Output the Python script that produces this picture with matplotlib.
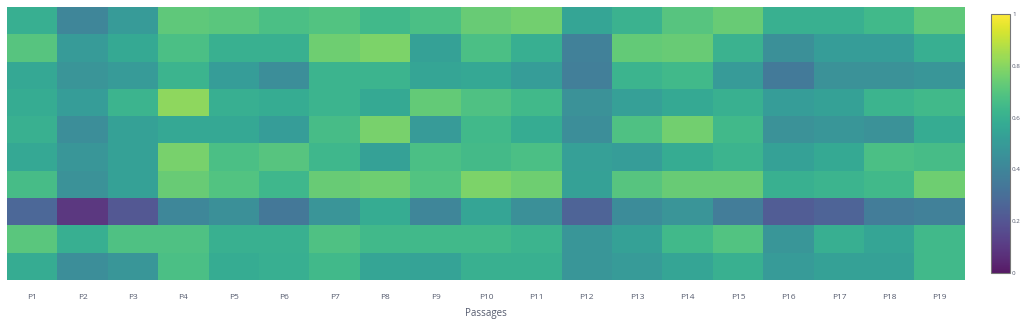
import matplotlib
matplotlib.use("Agg")
import matplotlib.pyplot as plt
import numpy as np
from matplotlib.colors import Normalize

passages = [f"P{i}" for i in range(1, 20)]

row0 = [0.59, 0.40, 0.50, 0.72, 0.71, 0.67, 0.69, 0.64, 0.67, 0.74, 0.76, 0.55, 0.61, 0.70, 0.74, 0.60, 0.60, 0.64, 0.72]
row1 = [0.70, 0.50, 0.57, 0.67, 0.60, 0.60, 0.75, 0.78, 0.53, 0.67, 0.59, 0.38, 0.73, 0.74, 0.61, 0.45, 0.51, 0.51, 0.59]
row2 = [0.56, 0.47, 0.50, 0.62, 0.51, 0.44, 0.62, 0.62, 0.55, 0.56, 0.51, 0.37, 0.62, 0.64, 0.50, 0.35, 0.46, 0.46, 0.48]
row3 = [0.58, 0.51, 0.62, 0.81, 0.59, 0.58, 0.62, 0.57, 0.73, 0.68, 0.64, 0.46, 0.52, 0.57, 0.60, 0.51, 0.53, 0.62, 0.64]
row4 = [0.60, 0.44, 0.53, 0.56, 0.56, 0.51, 0.66, 0.77, 0.50, 0.64, 0.58, 0.44, 0.68, 0.76, 0.64, 0.46, 0.48, 0.46, 0.58]
row5 = [0.56, 0.48, 0.53, 0.77, 0.67, 0.70, 0.63, 0.53, 0.67, 0.65, 0.67, 0.52, 0.51, 0.58, 0.62, 0.53, 0.57, 0.67, 0.66]
row6 = [0.66, 0.46, 0.53, 0.74, 0.69, 0.63, 0.74, 0.75, 0.69, 0.78, 0.75, 0.53, 0.70, 0.74, 0.74, 0.60, 0.62, 0.64, 0.75]
row7 = [0.27, 0.09, 0.21, 0.41, 0.45, 0.34, 0.47, 0.58, 0.40, 0.55, 0.45, 0.25, 0.43, 0.47, 0.36, 0.23, 0.25, 0.36, 0.38]
row8 = [0.71, 0.59, 0.68, 0.68, 0.60, 0.60, 0.68, 0.64, 0.64, 0.64, 0.62, 0.48, 0.53, 0.64, 0.69, 0.48, 0.59, 0.55, 0.64]
row9 = [0.58, 0.44, 0.48, 0.67, 0.58, 0.59, 0.64, 0.55, 0.54, 0.60, 0.60, 0.48, 0.50, 0.55, 0.60, 0.50, 0.53, 0.53, 0.64]

rows = [row0, row1, row2, row3, row4, row5, row6, row7, row8, row9]
Z = np.array(rows)

plt.rcParams['font.family'] = ['Open Sans', 'DejaVu Sans']
fig = plt.figure(figsize=(10.24, 3.2), dpi=100)
W, H = 1024, 320
ax = fig.add_axes([7 / W, 1 - 280 / H, (965 - 7) / W, (280 - 7) / H])
norm = Normalize(0, 1)
im = ax.imshow(Z, cmap="viridis", norm=norm, aspect="auto", alpha=0.9,
               interpolation="nearest")
ax.set_xticks(range(len(passages)))
ax.set_xticklabels(passages, fontsize=6, color="#555b6e")
ax.set_yticks([])
ax.tick_params(axis="x", length=0, pad=10)
for s in ax.spines.values():
    s.set_visible(False)
ax.set_xlabel("Passages", fontsize=7, color="#555b6e", labelpad=5)

cax = fig.add_axes([991 / W, 1 - 273 / H, 19 / W, (273 - 14) / H])
cb = fig.colorbar(im, cax=cax)
cb.solids.set_alpha(0.9)
cb.set_ticks([0, 0.2, 0.4, 0.6, 0.8, 1])
cb.set_ticklabels(["0", "0.2", "0.4", "0.6", "0.8", "1"])
cb.ax.tick_params(labelsize=4.5, colors="#555b6e", length=0, pad=1.5)
cb.outline.set_edgecolor("#777777")
cb.outline.set_linewidth(0.8)

fig.savefig("out.png", dpi=100)
